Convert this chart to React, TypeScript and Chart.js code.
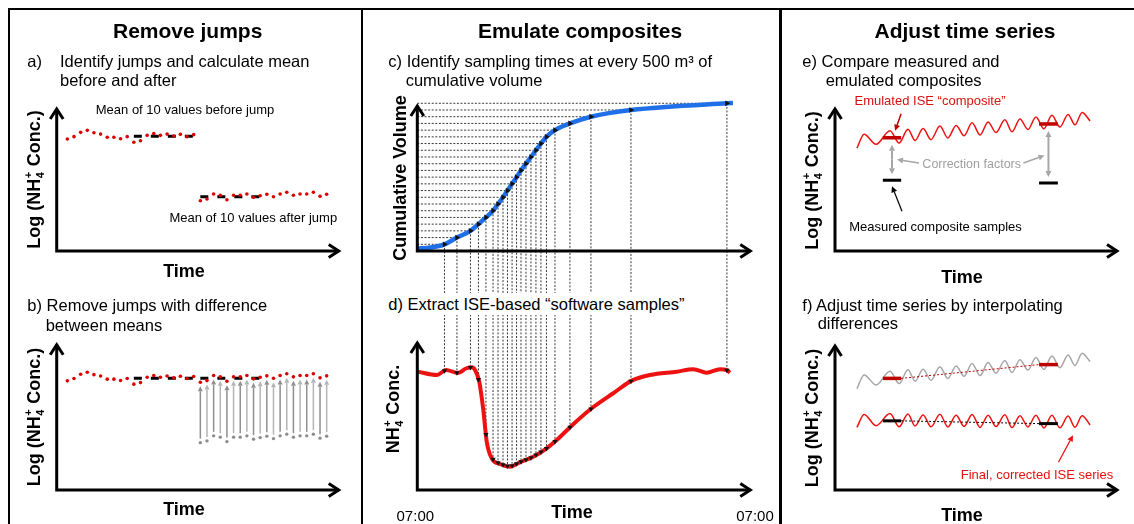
import { useEffect, useRef } from "react";
import { Chart, registerables } from "chart.js";

Chart.register(...registerables);

const W = 1134;
const H = 524;
const FONT = '"Liberation Sans", Arial, Helvetica, sans-serif';

/* a, b) ISE log(NH4+) readings, one per time step; the offset jump occurs at JUMP_AT */
const logConc = [
  7.78, 7.94, 8.24, 8.38, 8.21, 8.12, 7.9, 7.9, 7.8, 7.94,
  7.55, 7.66, 8.03, 8.15, 8.03, 8.12, 7.99, 8.1, 7.94, 8.08,
  3.49, 3.61, 3.96, 3.87, 3.56, 3.87, 3.87, 3.96, 3.73, 3.84,
  3.94, 3.77, 3.96, 4.08, 3.87, 3.96, 3.96, 4.08, 3.8, 3.94,
];
const JUMP_AT = 20;
const MEAN_N = 10;

/* c) cumulative flow volume (m³) against hours since 07:00 */
const volumeHours = [
  0, 1.0, 2.07, 3.02, 4.05, 4.66, 5.23, 5.77, 6.15, 6.53, 6.87, 7.22, 7.56,
  7.9, 8.28, 8.66, 9.04, 9.42, 9.84, 10.49, 11.63, 13.23, 16.28, 23.59, 24.05,
];
const cumulativeVolume = [
  180, 260, 500, 1000, 1500, 2000, 2500, 3000, 3500, 4000, 4500, 5000, 5500,
  6000, 6500, 7000, 7500, 8000, 8500, 9000, 9500, 10000, 10500, 11000, 11020,
];
const SAMPLE_VOLUME = 500;

/* d) ISE NH4+ concentration over the same day */
const concHours = [
  0, 1.5, 2.19, 3.1, 3.71, 4.14, 4.4, 4.72, 5.03, 5.29, 5.67, 6.3, 7.06, 7.82,
  8.84, 9.86, 10.62, 11.76, 13.29, 14.93, 16.34, 17.73, 19.76, 21.03, 22.05,
  23.07, 23.57, 23.82,
];
const ammonium = [
  7.89, 7.67, 8.0, 7.8, 8.1, 8.18, 8.0, 7.22, 5.33, 3.22, 2.11, 1.73, 1.55,
  1.85, 2.22, 2.78, 3.33, 4.29, 5.45, 6.45, 7.29, 7.67, 7.89, 8.05, 7.82,
  8.05, 8.0, 7.82,
];
const clockLabels = ["07:00", "07:00"];

/* e, f) ISE log(NH4+) signal and the composite sampling windows */
const waveTime = [
  7.7, 10.2, 14.4, 19.3, 22.5, 25.6, 28.1, 30.9, 33.7, 36.8, 39.6, 42.5, 45.3,
  48.1, 50.9, 53.7, 56.5, 59.6, 62.1, 64.9, 67.7, 70.5, 73.3, 76.1, 78.9, 81.8,
  84.2, 86.7, 89.5,
];
const iseWave = [
  7.1, 8.05, 7.36, 8.3, 7.45, 8.4, 7.62, 8.44, 7.68, 8.62, 7.8, 8.66, 7.95,
  8.84, 8.0, 8.9, 8.17, 9.05, 8.22, 9.1, 8.38, 9.25, 8.43, 9.36, 8.55, 9.42,
  8.7, 9.55, 8.97,
];
const windowStart = [16.8, 71.6];
const windowEnd = [23.2, 78.2];
const emulatedComposite = [7.81, 8.76];
const measuredComposite = [4.88, 4.69];

/* ---------- derived quantities ---------- */
const mean = (a: number[]) => a.reduce((s, v) => s + v, 0) / a.length;

function lerpAt(xs: number[], ys: number[], x: number) {
  let i = 1;
  while (i < xs.length - 1 && xs[i] < x) i++;
  const x0 = xs[i - 1];
  const x1 = xs[i];
  return ys[i - 1] + ((ys[i] - ys[i - 1]) * (x - x0)) / (x1 - x0);
}

function crossings(xs: number[], ys: number[], step: number) {
  const out: { t: number; v: number }[] = [];
  for (let lvl = step; lvl <= ys[ys.length - 1]; lvl += step) {
    for (let i = 1; i < ys.length; i++) {
      if (ys[i - 1] < lvl && ys[i] >= lvl) {
        out.push({ t: xs[i - 1] + ((xs[i] - xs[i - 1]) * (lvl - ys[i - 1])) / (ys[i] - ys[i - 1]), v: lvl });
        break;
      }
    }
  }
  return out;
}

const meanBefore = mean(logConc.slice(JUMP_AT - MEAN_N, JUMP_AT));
const meanAfter = mean(logConc.slice(JUMP_AT, JUMP_AT + MEAN_N));
const jumpShift = meanBefore - meanAfter;
const samples = crossings(volumeHours, cumulativeVolume, SAMPLE_VOLUME);
const windowMid = windowStart.map((s, i) => (s + windowEnd[i]) / 2);
const corrections = measuredComposite.map((m, i) => m - emulatedComposite[i]);
const correctedWave = iseWave.map((v, i) => v + lerpAt(windowMid, corrections, waveTime[i]));

/* ---------- colours ---------- */
const RED = "#dd0000";
const WAVE_RED = "#ee1111";
const DARK_RED = "#c00000";
const BLUE = "#1f6fe8";
const GREY = "#a6a6a6";

/* ---------- drawing helpers ---------- */
type Area = { left: number; top: number; right: number; bottom: number };
type Part = string | { sub: string; sup: string };

const LOG_TITLE: Part[] = ["Log (NH", { sub: "4", sup: "+" }, " Conc.)"];
const CONC_TITLE: Part[] = ["NH", { sub: "4", sup: "+" }, " Conc."];

function drawAxes(ctx: CanvasRenderingContext2D, a: Area) {
  ctx.save();
  ctx.strokeStyle = "#000";
  ctx.lineWidth = 3;
  ctx.lineJoin = "miter";
  ctx.lineCap = "butt";
  const t = a.top + 3;
  const r = a.right - 3;
  ctx.beginPath();
  ctx.moveTo(a.left, t);
  ctx.lineTo(a.left, a.bottom);
  ctx.lineTo(r, a.bottom);
  ctx.stroke();
  ctx.beginPath();
  ctx.moveTo(a.left - 6.5, t + 10);
  ctx.lineTo(a.left, t);
  ctx.lineTo(a.left + 6.5, t + 10);
  ctx.stroke();
  ctx.beginPath();
  ctx.moveTo(r - 10, a.bottom - 6.5);
  ctx.lineTo(r, a.bottom);
  ctx.lineTo(r - 10, a.bottom + 6.5);
  ctx.stroke();
  ctx.restore();
}

function drawYTitle(ctx: CanvasRenderingContext2D, parts: Part[], baseX: number, cy: number) {
  const big = `bold 18px ${FONT}`;
  const small = `bold 11px ${FONT}`;
  ctx.save();
  ctx.translate(baseX, cy);
  ctx.rotate(-Math.PI / 2);
  ctx.fillStyle = "#000";
  ctx.textAlign = "left";
  ctx.textBaseline = "alphabetic";
  const widths = parts.map((p) => {
    if (typeof p === "string") {
      ctx.font = big;
      return ctx.measureText(p).width;
    }
    ctx.font = small;
    return Math.max(ctx.measureText(p.sub).width, ctx.measureText(p.sup).width) + 1;
  });
  let x = -widths.reduce((s, w) => s + w, 0) / 2;
  parts.forEach((p, i) => {
    if (typeof p === "string") {
      ctx.font = big;
      ctx.fillText(p, x, 0);
    } else {
      ctx.font = small;
      ctx.fillText(p.sub, x + 0.5, 4);
      ctx.fillText(p.sup, x + 0.5, -8);
    }
    x += widths[i];
  });
  ctx.restore();
}

function drawXTitle(ctx: CanvasRenderingContext2D, text: string, cx: number, baseline: number) {
  ctx.save();
  ctx.font = `bold 18px ${FONT}`;
  ctx.fillStyle = "#000";
  ctx.textAlign = "center";
  ctx.fillText(text, cx, baseline);
  ctx.restore();
}

function arrowLine(
  ctx: CanvasRenderingContext2D,
  x0: number, y0: number, x1: number, y1: number,
  color: string, lw: number, head = 6, half = 3,
) {
  const ang = Math.atan2(y1 - y0, x1 - x0);
  const bx = x1 - Math.cos(ang) * head;
  const by = y1 - Math.sin(ang) * head;
  ctx.save();
  ctx.strokeStyle = color;
  ctx.fillStyle = color;
  ctx.lineWidth = lw;
  ctx.beginPath();
  ctx.moveTo(x0, y0);
  ctx.lineTo(bx, by);
  ctx.stroke();
  ctx.beginPath();
  ctx.moveTo(x1, y1);
  ctx.lineTo(bx - Math.sin(ang) * half, by + Math.cos(ang) * half);
  ctx.lineTo(bx + Math.sin(ang) * half, by - Math.cos(ang) * half);
  ctx.closePath();
  ctx.fill();
  ctx.restore();
}

function dottedLine(ctx: CanvasRenderingContext2D, x0: number, y0: number, x1: number, y1: number) {
  ctx.save();
  ctx.strokeStyle = "rgba(20,20,20,0.85)";
  ctx.lineWidth = 1;
  ctx.setLineDash([2, 1.6]);
  ctx.beginPath();
  ctx.moveTo(x0, y0);
  ctx.lineTo(x1, y1);
  ctx.stroke();
  ctx.restore();
}

/* ---------- dataset helpers ---------- */
type Pt = { x: number; y: number };
const dots = (pts: Pt[], color: string, r: number) => ({
  data: pts, showLine: false, pointRadius: r, pointHoverRadius: r,
  pointBackgroundColor: color, pointBorderWidth: 0, borderColor: color, clip: false,
});
const seg = (pts: Pt[], color: string, width: number, dash: number[] = []) => ({
  data: pts, showLine: true, borderColor: color, borderWidth: width, borderDash: dash,
  pointRadius: 0, pointHoverRadius: 0, fill: false, clip: false,
});
const curve = (pts: Pt[], color: string, width: number) => ({
  ...seg(pts, color, width), cubicInterpolationMode: "monotone", borderJoinStyle: "round",
});
const heads = (pts: Pt[], rotation: number, r: number) => ({
  data: pts, showLine: false, pointStyle: "triangle", rotation, pointRadius: r, pointHoverRadius: r,
  pointBackgroundColor: "#111", pointBorderWidth: 0, borderColor: "#111", clip: false,
});

function buildChart(
  canvas: HTMLCanvasElement, area: Area, xr: [number, number], yr: [number, number],
  datasets: any[], before?: (c: Chart) => void, after?: (c: Chart) => void,
) {
  return new Chart(canvas, {
    type: "scatter",
    data: { datasets },
    options: {
      responsive: false,
      animation: false,
      devicePixelRatio: 1,
      events: [],
      layout: { padding: { left: area.left, top: area.top, right: W - area.right, bottom: H - area.bottom } },
      scales: {
        x: { type: "linear", display: false, min: xr[0], max: xr[1] },
        y: { type: "linear", display: false, min: yr[0], max: yr[1] },
      },
      plugins: { legend: { display: false }, tooltip: { enabled: false } },
    },
    plugins: [
      {
        id: "sketch",
        beforeDatasetsDraw: (c: Chart) => before?.(c),
        afterDatasetsDraw: (c: Chart) => after?.(c),
      },
    ],
  } as any);
}

const px = (c: Chart, v: number) => c.scales.x.getPixelForValue(v);
const py = (c: Chart, v: number) => c.scales.y.getPixelForValue(v);

/* ---------- plot areas ---------- */
const AREA_A: Area = { left: 56.7, top: 106, right: 341.7, bottom: 251 };
const AREA_B: Area = { left: 56.7, top: 341.7, right: 341.7, bottom: 490 };
const AREA_C: Area = { left: 417.3, top: 103, right: 753.3, bottom: 251 };
const AREA_D: Area = { left: 417.3, top: 340, right: 753.3, bottom: 490 };
const AREA_E: Area = { left: 835, top: 106, right: 1120, bottom: 251 };
const AREA_F: Area = { left: 835, top: 343, right: 1120, bottom: 490 };
const STEP_RANGE: [number, number] = [-1.6, 41.26];
const HOUR_RANGE: [number, number] = [0, 25.6];
const WAVE_RANGE: [number, number] = [0, 100];
const LINK_Y = 300;

const stepPts = (vals: number[], from = 0) => vals.map((v, i) => ({ x: i + from, y: v }));
const meanBar = (from: number, level: number) => [
  { x: from, y: level },
  { x: from + MEAN_N - 1, y: level },
];

function buildA(cv: HTMLCanvasElement) {
  return buildChart(
    cv, AREA_A, STEP_RANGE, [0, 10.07],
    [
      dots(stepPts(logConc), RED, 1.8),
      seg(meanBar(JUMP_AT - MEAN_N, meanBefore), "#000", 3, [8, 9]),
      seg(meanBar(JUMP_AT, meanAfter), "#000", 3, [8, 9]),
    ],
    undefined,
    (c) => {
      drawAxes(c.ctx, c.chartArea);
      drawYTitle(c.ctx, LOG_TITLE, 40, 179.5);
      drawXTitle(c.ctx, "Time", 184, 277);
    },
  );
}

function buildB(cv: HTMLCanvasElement) {
  const adjusted = logConc.map((v, i) => (i >= JUMP_AT ? v + jumpShift : v));
  const original = logConc.slice(JUMP_AT);
  return buildChart(
    cv, AREA_B, STEP_RANGE, [0.2, 10.5],
    [
      dots(stepPts(adjusted), RED, 1.8),
      dots(stepPts(original, JUMP_AT), "#8c8c8c", 1.7),
      seg(meanBar(JUMP_AT - MEAN_N, meanBefore), "#000", 3, [8, 9]),
      seg(meanBar(JUMP_AT, meanAfter + jumpShift), "#000", 3, [8, 9]),
    ],
    (c) => {
      original.forEach((v, k) => {
        const x = px(c, JUMP_AT + k);
        arrowLine(c.ctx, x, py(c, v) - 4, x, py(c, v + jumpShift) + 4, k % 2 ? "#b4b4b4" : "#8f8f8f", 1.5, 5, 2.5);
      });
    },
    (c) => {
      drawAxes(c.ctx, c.chartArea);
      drawYTitle(c.ctx, LOG_TITLE, 40, 417);
      drawXTitle(c.ctx, "Time", 184, 515);
    },
  );
}

function buildC(cv: HTMLCanvasElement) {
  return buildChart(
    cv, AREA_C, HOUR_RANGE, [0, 11020],
    [
      heads(samples.map((s) => ({ x: s.t, y: s.v })), 90, 3.3),
      curve(volumeHours.map((t, i) => ({ x: t, y: cumulativeVolume[i] })), BLUE, 4.5),
    ],
    (c) => {
      samples.forEach((s) => {
        const x = px(c, s.t);
        const y = py(c, s.v);
        dottedLine(c.ctx, c.chartArea.left, y, x - 2, y);
        dottedLine(c.ctx, x, y, x, LINK_Y);
      });
    },
    (c) => {
      drawAxes(c.ctx, c.chartArea);
      drawYTitle(c.ctx, ["Cumulative Volume"], 405.5, 178);
    },
  );
}

function buildD(cv: HTMLCanvasElement) {
  const hits = samples.map((s) => ({ x: s.t, y: lerpAt(concHours, ammonium, s.t) }));
  return buildChart(
    cv, AREA_D, HOUR_RANGE, [0, 10],
    [
      heads(hits, 180, 3),
      curve(concHours.map((t, i) => ({ x: t, y: ammonium[i] })), WAVE_RED, 4),
    ],
    (c) => {
      hits.forEach((h) => {
        const x = px(c, h.x);
        dottedLine(c.ctx, x, LINK_Y, x, py(c, h.y) - 2);
      });
    },
    (c) => {
      drawAxes(c.ctx, c.chartArea);
      drawYTitle(c.ctx, CONC_TITLE, 399, 409);
      drawXTitle(c.ctx, "Time", 572, 518);
    },
  );
}

const windowBar = (k: number, level: number) => [
  { x: windowStart[k], y: level },
  { x: windowEnd[k], y: level },
];

function buildE(cv: HTMLCanvasElement) {
  return buildChart(
    cv, AREA_E, WAVE_RANGE, [0, 10],
    [
      seg(windowBar(0, emulatedComposite[0]), DARK_RED, 3.5),
      seg(windowBar(1, emulatedComposite[1]), DARK_RED, 3.5),
      seg(windowBar(0, measuredComposite[0]), "#000", 3),
      seg(windowBar(1, measuredComposite[1]), "#000", 3),
      curve(waveTime.map((t, i) => ({ x: t, y: iseWave[i] })), WAVE_RED, 1.5),
    ],
    undefined,
    (c) => {
      const ctx = c.ctx;
      const mids: { x: number; y: number }[] = [];
      windowMid.forEach((m, k) => {
        const x = px(c, m);
        const yE = py(c, emulatedComposite[k]) + 7;
        const yM = py(c, measuredComposite[k]) - 6;
        const ym = (yE + yM) / 2;
        arrowLine(ctx, x, ym, x, yE, GREY, 2, 6, 3);
        arrowLine(ctx, x, ym, x, yM, GREY, 2, 6, 3);
        mids.push({ x, y: ym });
      });
      // pointers from "Correction factors"
      arrowLine(ctx, mids[0].x + 27, mids[0].y + 3.5, mids[0].x + 5, mids[0].y, GREY, 1.5, 6, 3);
      arrowLine(ctx, mids[1].x - 25, mids[1].y + 9, mids[1].x - 4, mids[1].y + 1.5, GREY, 1.5, 6, 3);
      // pointer to the emulated composite
      const ex = px(c, windowEnd[0]);
      const ey = py(c, emulatedComposite[0]);
      arrowLine(ctx, ex, ey - 24, ex - 6, ey - 7, DARK_RED, 1.5, 6, 3);
      // pointer to the measured sample
      const mx = px(c, windowMid[0]);
      const my = py(c, measuredComposite[0]);
      arrowLine(ctx, mx + 10, my + 31, mx, my + 6, "#000", 1.2, 6, 3);
      drawAxes(ctx, c.chartArea);
      drawYTitle(ctx, LOG_TITLE, 818, 180.5);
      drawXTitle(ctx, "Time", 962, 283);
    },
  );
}

function buildF(cv: HTMLCanvasElement) {
  const trough = 26;
  return buildChart(
    cv, AREA_F, WAVE_RANGE, [0.11, 10.25],
    [
      seg(windowBar(0, emulatedComposite[0]), DARK_RED, 3.5),
      seg(windowBar(1, emulatedComposite[1]), DARK_RED, 3.5),
      seg(windowBar(0, measuredComposite[0]), "#000", 3),
      seg(windowBar(1, measuredComposite[1]), "#000", 3),
      seg([{ x: windowEnd[0], y: emulatedComposite[0] }, { x: windowStart[1], y: emulatedComposite[1] }], DARK_RED, 1, [2, 2]),
      seg([{ x: windowEnd[0], y: measuredComposite[0] }, { x: windowStart[1], y: measuredComposite[1] }], "#000", 1, [2, 2]),
      curve(waveTime.map((t, i) => ({ x: t, y: iseWave[i] })), GREY, 1.5),
      curve(waveTime.map((t, i) => ({ x: t, y: correctedWave[i] })), WAVE_RED, 1.5),
    ],
    undefined,
    (c) => {
      const tx = px(c, waveTime[trough]) - 2;
      const ty = py(c, correctedWave[trough]) + 8;
      arrowLine(c.ctx, tx - 14.5, ty + 27, tx, ty, WAVE_RED, 1.3, 6, 3);
      drawAxes(c.ctx, c.chartArea);
      drawYTitle(c.ctx, LOG_TITLE, 818, 418);
      drawXTitle(c.ctx, "Time", 962, 521);
    },
  );
}

/* ---------- page ---------- */
function ChartLayer({ build }: { build: (c: HTMLCanvasElement) => Chart }) {
  const ref = useRef<HTMLCanvasElement>(null);
  useEffect(() => {
    const ch = build(ref.current as HTMLCanvasElement);
    return () => ch.destroy();
  }, [build]);
  return (
    <canvas
      ref={ref}
      width={W}
      height={H}
      style={{ position: "absolute", left: 0, top: 0, width: W, height: H }}
    />
  );
}

type TextSpec = {
  t: string; x: number; b: number; s?: number; bold?: boolean;
  color?: string; center?: boolean; bg?: boolean;
};

const texts: TextSpec[] = [
  { t: "Remove jumps", x: 187.7, b: 37.5, s: 21, bold: true, center: true },
  { t: "Emulate composites", x: 580, b: 37.5, s: 21, bold: true, center: true },
  { t: "Adjust time series", x: 965, b: 37.5, s: 21, bold: true, center: true },
  { t: "a)", x: 27.3, b: 67, s: 16.5 },
  { t: "Identify jumps and calculate mean", x: 60, b: 67, s: 16.5 },
  { t: "before and after", x: 60, b: 85.5, s: 16.5 },
  { t: "Mean of 10 values before jump", x: 185, b: 114.5, s: 13, center: true },
  { t: "Mean of 10 values after jump", x: 253.3, b: 222.5, s: 13, center: true },
  { t: "b) Remove jumps with difference", x: 27.3, b: 310.8, s: 16.5 },
  { t: "between means", x: 45.7, b: 330.5, s: 16.5 },
  { t: "c) Identify sampling times at every 500 m³ of", x: 388.3, b: 67, s: 16.5 },
  { t: "cumulative volume", x: 405.7, b: 85.5, s: 16.5 },
  { t: "d) Extract ISE-based “software samples”", x: 388.3, b: 309.8, s: 16.5, bg: true },
  { t: clockLabels[0], x: 415.3, b: 521, s: 15, center: true },
  { t: clockLabels[1], x: 755, b: 521, s: 15, center: true },
  { t: "e) Compare measured and", x: 802.3, b: 67, s: 16.5 },
  { t: "emulated composites", x: 825.7, b: 85.5, s: 16.5 },
  { t: "Emulated ISE “composite”", x: 930, b: 105, s: 13, color: "#d81010", center: true },
  { t: "Correction factors", x: 971.7, b: 169, s: 12.5, color: "#a0a0a0", center: true },
  { t: "Measured composite samples", x: 935.5, b: 231, s: 13, center: true },
  { t: "f) Adjust time series by interpolating", x: 802.3, b: 310.8, s: 16.5 },
  { t: "differences", x: 817.7, b: 328.5, s: 16.5 },
  { t: "Final, corrected ISE series", x: 1037, b: 479, s: 13, color: "#e81010", center: true },
];

function Label({ spec }: { spec: TextSpec }) {
  const s = spec.s ?? 16;
  const pad = spec.bg ? 3 : 0;
  return (
    <div
      style={{
        position: "absolute",
        left: spec.x - (spec.bg ? 2 : 0),
        top: spec.b - 0.8465 * s - pad,
        fontFamily: FONT,
        fontSize: s,
        lineHeight: `${s}px`,
        fontWeight: spec.bold ? 700 : 400,
        color: spec.color ?? "#000",
        whiteSpace: "nowrap",
        transform: spec.center ? "translateX(-50%)" : undefined,
        background: spec.bg ? "#fff" : undefined,
        padding: spec.bg ? `${pad}px 2px` : 0,
      }}
    >
      {spec.t}
    </div>
  );
}

const rule = (left: number, top: number, width: number, height: number) => (
  <div style={{ position: "absolute", left, top, width, height, background: "#000" }} />
);

export default function App() {
  return (
    <div
      style={{
        position: "absolute",
        left: 0,
        top: 0,
        width: W,
        height: H,
        background: "#fff",
        overflow: "hidden",
      }}
    >
      <ChartLayer build={buildA} />
      <ChartLayer build={buildB} />
      <ChartLayer build={buildC} />
      <ChartLayer build={buildD} />
      <ChartLayer build={buildE} />
      <ChartLayer build={buildF} />
      {rule(7.5, 8.3, W - 7.5, 2)}
      {rule(7.5, 8.3, 2.5, H)}
      {rule(360.5, 8.3, 2.5, H)}
      {rule(779, 8.3, 2.5, H)}
      {texts.map((spec, i) => (
        <Label key={i} spec={spec} />
      ))}
    </div>
  );
}
